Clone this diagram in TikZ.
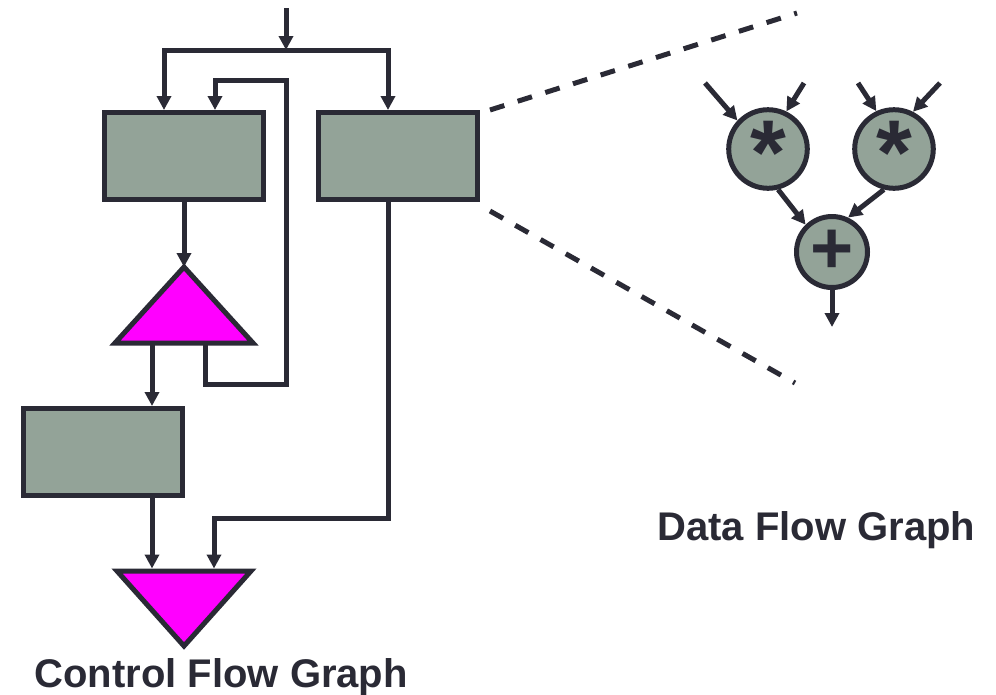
\documentclass[tikz,border=0pt]{standalone}
\usepackage{fontspec}
\setmainfont{Liberation Sans}
\usepackage{tikz}
\usetikzlibrary{arrows.meta,positioning,calc}
\usepackage{xcolor}
\definecolor{blockgray}{RGB}{147,163,152}
\definecolor{inkdark}{RGB}{42,42,53}
\definecolor{condpink}{RGB}{255,0,255}

\begin{document}
\begin{tikzpicture}[x=1pt, y=-1pt, >={Triangle[length=14pt,width=14pt]}, line width=5pt, draw=inkdark,
    block/.style={draw=inkdark, fill=blockgray, line width=5pt, minimum width=159pt, minimum height=87pt, inner sep=0pt},
    cond/.style={draw=inkdark, fill=condpink, line width=5pt},
    op/.style={circle, draw=inkdark, fill=blockgray, line width=5pt, minimum size=71pt, inner sep=0pt, text=inkdark},
    zoomline/.style={draw=inkdark, line width=5pt, dash pattern=on 15pt off 14pt},
    title/.style={font=\bfseries\fontsize{40}{48}\selectfont, text=inkdark, inner sep=0pt, anchor=base west}]
    \useasboundingbox (0,0) rectangle (996,694);
    \node[block] (bb1) at (184,156) {};
    \node[block, right=50pt of bb1] (bb2) {};
    \node[block] (bb3) at (102.5,452) {};
    \draw[cond] (184,267) coordinate (br-top) -- (253,343) coordinate (br-r) -- (115,343) coordinate (br-l) -- cycle;
    \draw[cond] (117,571) coordinate (mg-l) -- (251,571) coordinate (mg-r) -- (184,646) coordinate (mg-bot) -- cycle;
    \coordinate (entry) at (286,8);
    \coordinate (split) at (286,50);
    \coordinate (br-out) at (152,343);
    \coordinate (loop-out) at (205,343);
    \coordinate (loop-back) at (286,384);
    \coordinate (join) at (214,518);
    \draw[->] (entry) -- (split);
    \draw[->] (split) -| ([xshift=-20pt]bb1.north);
    \draw[->] (split) -| ([xshift=-10pt]bb2.north);
    \draw[->] (bb1.south) -- (br-top);
    \draw[->] (loop-out) |- (loop-back) -- ++(0,-304) -| ([xshift=31pt]bb1.north);
    \draw[->] (br-out) -- (br-out |- bb3.north);
    \draw[->] (br-out |- bb3.south) -- ([yshift=2.5pt]br-out |- mg-l);
    \draw[->] ([xshift=-10pt]bb2.south) |- (join) -- ([yshift=2.5pt]join |- mg-l);
    \coordinate (zoom-top) at (797,13);
    \coordinate (zoom-bot) at (795,383);
    \draw[zoomline] ([xshift=10pt]bb2.north east) -- (zoom-top);
    \draw[zoomline] ([xshift=10pt,yshift=-9pt]bb2.south east) -- (zoom-bot);
    \node[op, font=\bfseries\fontsize{92}{92}\selectfont, text height=70pt] (mul1) at (768,149) {*};
    \node[op, font=\bfseries\fontsize{92}{92}\selectfont, text height=70pt] (mul2) at (894,149) {*};
    \node[op, font=\bfseries\fontsize{74}{74}\selectfont] (sum) at (832,252) {+};
    \coordinate (in1) at (705,83);
    \coordinate (in2) at (804,83);
    \coordinate (in3) at (858,83);
    \coordinate (in4) at (940,83);
    \coordinate (out) at (832,327);
    \draw[->] (in1) -- (mul1.137);
    \draw[->] (in2) -- (mul1.64);
    \draw[->] (in3) -- (mul2.115);
    \draw[->] (in4) -- (mul2.63);
    \draw[->] (mul1.284) -- (sum.134);
    \draw[->] (mul2.256) -- (sum.65);
    \draw[->] (sum) -- (out);
    \node[title] (cfg-label) at (32,687) {Control Flow Graph};
    \node[title] (dfg-label) at (655,540) {Data Flow Graph};
\end{tikzpicture}
\end{document}
